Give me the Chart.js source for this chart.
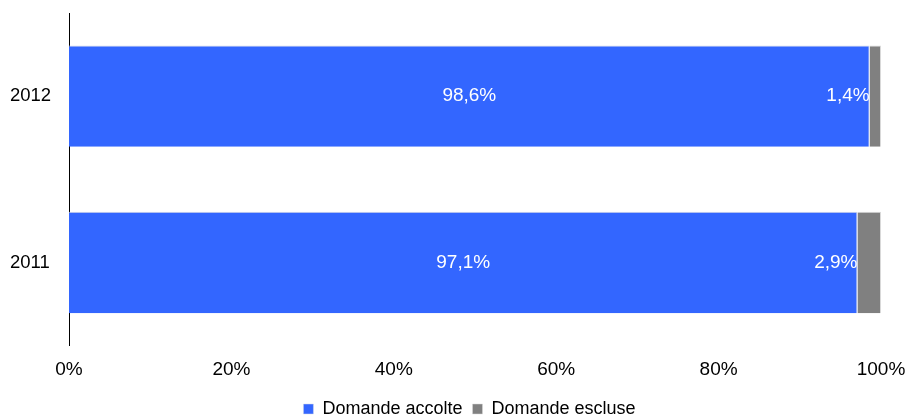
<!DOCTYPE html>
<html>
<head>
<meta charset="utf-8">
<script src="https://cdn.jsdelivr.net/npm/chart.js@4"></script>
<style>
  html, body { margin: 0; padding: 0; background: #fff; width: 906px; height: 416px; overflow: hidden; }
  canvas { display: block; }
</style>
</head>
<body>
<canvas id="chart" width="906" height="428"></canvas>
<script>
const years = ['2012', '2011'];
const accolte = [98.6, 97.1];
const escluse = [1.4, 2.9];
const xTicks = [0, 20, 40, 60, 80, 100];

const fmt = (v) => v.toFixed(1).replace('.', ',') + '%';

// labels inside the bars: blue ones centred, grey ones just left of the grey piece
const barLabels = {
    id: 'barLabels',
    afterDatasetsDraw(chart) {
        let ctx = chart.ctx;
        ctx.save();
        ctx.font = '19px "Liberation Sans", Arial, sans-serif';
        ctx.fillStyle = '#ffffff';
        ctx.textBaseline = 'middle';
        chart.data.datasets.forEach((ds, i) => {
            chart.getDatasetMeta(i).data.forEach((bar, j) => {
                let left = Math.min(bar.x, bar.base);
                let right = Math.max(bar.x, bar.base);
                if (i === 0) {
                    ctx.textAlign = 'center';
                    ctx.fillText(fmt(ds.data[j]), (left + right) / 2, bar.y);
                } else {
                    ctx.textAlign = 'right';
                    ctx.fillText(fmt(ds.data[j]), left, bar.y);
                }
            });
        });
        ctx.restore();
    }
};

// nudge the legend to the right, it sits under the plot area in the original
const legendShift = {
    id: 'legendShift',
    afterLayout(chart) {
        chart.legend.left += 24;
        chart.legend.right += 24;
    }
};

Chart.defaults.font.family = '"Liberation Sans", Arial, sans-serif';
Chart.defaults.font.size = 19;
Chart.defaults.color = '#000000';

const edge = { top: 1, right: 1, bottom: 0, left: 0 };

new Chart(document.getElementById('chart'), {
    type: 'bar',
    data: {
        labels: years,
        datasets: [
            { label: 'Domande accolte', data: accolte, backgroundColor: '#3366ff', borderColor: '#d4d8e6', borderWidth: edge },
            { label: 'Domande escluse', data: escluse, backgroundColor: '#808080', borderColor: '#d9d9d9', borderWidth: edge }
        ]
    },
    options: {
        indexAxis: 'y',
        responsive: false,
        animation: false,
        layout: { padding: { top: 13, right: 25, left: 10, bottom: 0 } },
        datasets: { bar: { categoryPercentage: 1, barPercentage: 0.61 } },
        plugins: {
            legend: {
                position: 'bottom',
                labels: { boxWidth: 10, boxHeight: 10, padding: 10, font: { size: 18 } }
            },
            tooltip: { enabled: false }
        },
        scales: {
            x: {
                stacked: true,
                min: 0,
                max: 100,
                afterBuildTicks: (axis) => { axis.ticks = xTicks.map(v => ({ value: v })); },
                afterFit: (axis) => { axis.height = 44.4; },
                grid: { display: false, drawTicks: true, tickLength: 13 },
                border: { display: false },
                ticks: { padding: 0, callback: (v) => v + '%' }
            },
            y: {
                stacked: true,
                afterFit: (axis) => { axis.width = 59; },
                grid: { display: false, drawTicks: false },
                border: { display: true, color: '#000000', width: 1 },
                ticks: { padding: 0, crossAlign: 'far', font: { size: 18.5 } }
            }
        }
    },
    plugins: [barLabels, legendShift]
});
</script>
</body>
</html>
